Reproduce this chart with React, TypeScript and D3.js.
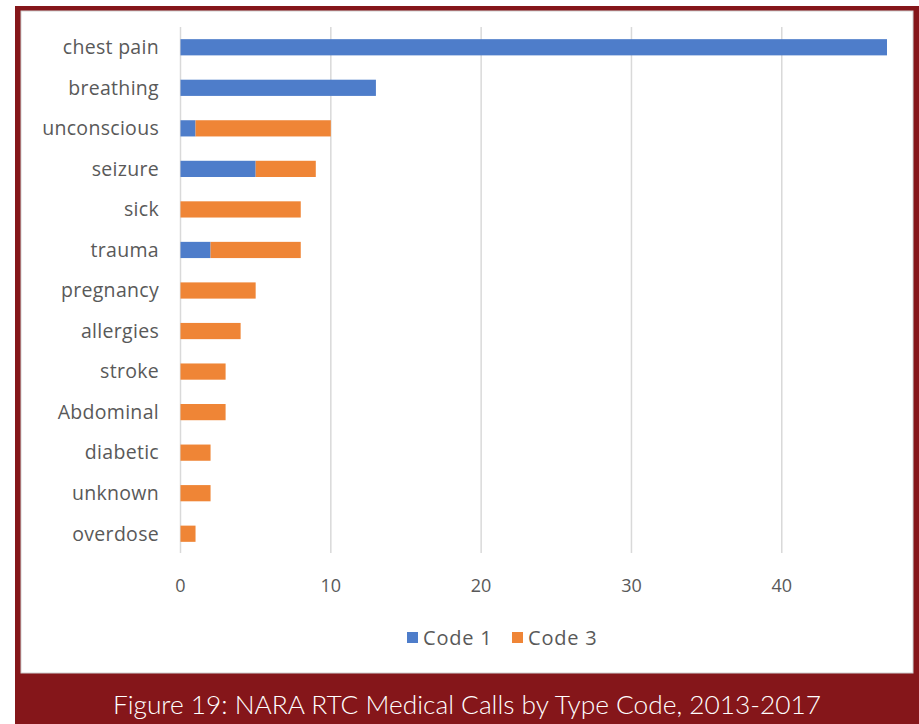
import React, { useEffect, useRef } from "react";
import { select, scaleLinear, scaleBand } from "d3";

const categories = [
  "chest pain",
  "breathing",
  "unconscious",
  "seizure",
  "sick",
  "trauma",
  "pregnancy",
  "allergies",
  "stroke",
  "Abdominal",
  "diabetic",
  "unknown",
  "overdose",
];
const code1 = [47, 13, 1, 5, 0, 2, 0, 0, 0, 0, 0, 0, 0];
const code3 = [0, 0, 9, 4, 8, 6, 5, 4, 3, 3, 2, 2, 1];
const xTicks = [0, 10, 20, 30, 40];
const seriesNames = ["Code 1", "Code 3"];
const seriesColors = ["#4e7dca", "#ef8536"];
const caption = "Figure 19: NARA RTC Medical Calls by Type Code, 2013-2017";

const W = 919;
const H = 724;
const MAROON = "#85161a";
const FONT = "'Open Sans', 'DejaVu Sans', sans-serif";

function App() {
  const svgRef = useRef<SVGSVGElement>(null);

  useEffect(() => {
    const svg = select(svgRef.current);
    svg.selectAll("*").remove();

    // frame
    svg.append("rect").attr("width", W).attr("height", H).attr("fill", "#fff");
    svg.append("rect").attr("x", 15).attr("y", 6).attr("width", W - 15).attr("height", H - 6).attr("fill", MAROON);
    svg.append("rect").attr("x", 21).attr("y", 11).attr("width", 892).attr("height", 662).attr("fill", "#fff")
      .attr("stroke", "#cfcfcf").attr("stroke-width", 1);

    const x = scaleLinear().domain([0, 47]).range([180.5, 887]);
    const y = scaleBand<string>().domain(categories).range([27, 554]).paddingInner(0.6).paddingOuter(0.3);

    const g = svg.append("g");

    // gridlines
    g.selectAll("line.grid")
      .data(xTicks)
      .join("line")
      .attr("x1", (d) => x(d))
      .attr("x2", (d) => x(d))
      .attr("y1", 27)
      .attr("y2", 553)
      .attr("stroke", "#d9d9d9")
      .attr("stroke-width", 1.5);

    // stacked bars
    categories.forEach((c, i) => {
      const y0 = y(c)!;
      if (code1[i] > 0)
        g.append("rect")
          .attr("x", x(0))
          .attr("y", y0)
          .attr("width", x(code1[i]) - x(0))
          .attr("height", y.bandwidth())
          .attr("fill", seriesColors[0]);
      if (code3[i] > 0)
        g.append("rect")
          .attr("x", x(code1[i]))
          .attr("y", y0)
          .attr("width", x(code1[i] + code3[i]) - x(code1[i]))
          .attr("height", y.bandwidth())
          .attr("fill", seriesColors[1]);
    });

    // category labels
    g.selectAll("text.cat")
      .data(categories)
      .join("text")
      .attr("x", 159)
      .attr("y", (d) => y(d)! + y.bandwidth() / 2)
      .attr("dy", "0.35em")
      .attr("text-anchor", "end")
      .attr("font-family", FONT)
      .attr("font-size", 19.5)
      .attr("letter-spacing", 0.3)
      .attr("fill", "#595959")
      .text((d) => d);

    // x tick labels
    g.selectAll("text.tick")
      .data(xTicks)
      .join("text")
      .attr("x", (d) => x(d))
      .attr("y", 592)
      .attr("text-anchor", "middle")
      .attr("font-family", FONT)
      .attr("font-size", 18)
      .attr("fill", "#595959")
      .text((d) => String(d));

    // legend
    const legendX = [407, 512];
    seriesNames.forEach((n, i) => {
      g.append("rect").attr("x", legendX[i]).attr("y", 632).attr("width", 11).attr("height", 11).attr("fill", seriesColors[i]);
      g.append("text")
        .attr("x", legendX[i] + 16)
        .attr("y", 645)
        .attr("font-family", FONT)
        .attr("font-size", 20)
        .attr("letter-spacing", 0.8)
        .attr("fill", "#595959")
        .text(n);
    });

    // caption
    svg.append("text")
      .attr("x", 467)
      .attr("y", 714)
      .attr("text-anchor", "middle")
      .attr("font-family", "Lato, 'Open Sans', sans-serif")
      .attr("font-weight", 300)
      .attr("font-size", 26.3)
      .attr("fill", "#fff")
      .text(caption);
  }, []);

  return (
    <svg
      ref={svgRef}
      width={W}
      height={H}
      style={{ position: "absolute", left: 0, top: 0 }}
    />
  );
}

export default App;
